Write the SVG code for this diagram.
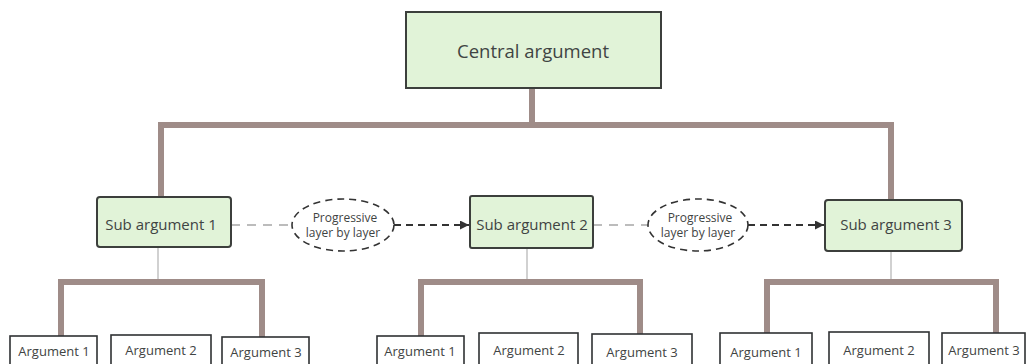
<svg xmlns="http://www.w3.org/2000/svg" width="1026" height="364" viewBox="0 0 1026 364">
  <defs>
    <style>
      .box { fill: #e1f3d8; stroke: #3c3f3c; stroke-width: 2; }
      .leaf { fill: #ffffff; stroke: #2f3133; stroke-width: 1.6; }
      .trunk { fill: none; stroke: #9f8c88; stroke-width: 6; stroke-linejoin: miter; }
      .stem { fill: none; stroke: #b3b3b3; stroke-width: 1.2; }
      .loop { fill: #ffffff; stroke: #333333; stroke-width: 1.6; stroke-dasharray: 7 5; }
      .light { fill: none; stroke: #7a7a7a; stroke-width: 1.2; stroke-dasharray: 9 7; }
      .dark { fill: none; stroke: #333333; stroke-width: 1.8; stroke-dasharray: 7 5; }
      text { font-family: "Open Sans", "Noto Sans", sans-serif; fill: #3f4443; text-anchor: middle; }
      .t1 { font-size: 18.5px; }
      .t2 { font-size: 15px; }
      .t3 { font-size: 13px; }
      .t4 { font-size: 12px; }
    </style>
    <marker id="arrow" viewBox="0 0 10 10" refX="10" refY="5" markerWidth="9" markerHeight="9" markerUnits="userSpaceOnUse" orient="auto">
      <path d="M0,0 L10,5 L0,10 z" fill="#333333"/>
    </marker>
  </defs>

  <g id="connectors">
    <!-- main trunk -->
    <path class="trunk" d="M532,88 V125"/>
    <path class="trunk" d="M161,197 V125 H891 V200"/>
    <!-- sub-level stems -->
    <path class="stem" d="M158,247 V282"/>
    <path class="stem" d="M527,248 V282"/>
    <path class="stem" d="M891,251 V282"/>
    <!-- leaf brackets -->
    <path class="trunk" d="M61,336 V282 H262 V337"/>
    <path class="trunk" d="M421,336 V282 H640 V334"/>
    <path class="trunk" d="M767,333 V282 H996 V333"/>
    <!-- progression links -->
    <path class="light" d="M231,225 H292"/>
    <path class="dark" d="M394,225 H469" marker-end="url(#arrow)"/>
    <path class="light" d="M593,225 H648"/>
    <path class="dark" d="M748,225 H824" marker-end="url(#arrow)"/>
  </g>

  <g id="central">
    <rect class="box" x="406" y="12" width="255" height="76"/>
    <text class="t1" x="533" y="58">Central argument</text>
  </g>

  <g id="sub1">
    <rect class="box" x="97" y="197" width="134" height="50" rx="3"/>
    <text class="t2" x="161" y="230">Sub argument 1</text>
  </g>
  <g id="sub2">
    <rect class="box" x="470" y="196" width="123" height="52" rx="2"/>
    <text class="t2" x="532" y="230">Sub argument 2</text>
  </g>
  <g id="sub3">
    <rect class="box" x="825" y="200" width="137" height="51" rx="3"/>
    <text class="t2" x="896" y="230">Sub argument 3</text>
  </g>

  <g id="link1">
    <ellipse class="loop" cx="343" cy="225" rx="51" ry="26"/>
    <text class="t4" x="345" y="222">Progressive</text>
    <text class="t4" x="343" y="237">layer by layer</text>
  </g>
  <g id="link2">
    <ellipse class="loop" cx="698" cy="225" rx="50" ry="26"/>
    <text class="t4" x="700" y="222">Progressive</text>
    <text class="t4" x="698" y="237">layer by layer</text>
  </g>

  <g id="arg1a">
    <rect class="leaf" x="10" y="336" width="87" height="40"/>
    <text class="t3" x="54" y="356">Argument 1</text>
  </g>
  <g id="arg2a">
    <rect class="leaf" x="111" y="335" width="100" height="40"/>
    <text class="t3" x="161" y="355">Argument 2</text>
  </g>
  <g id="arg3a">
    <rect class="leaf" x="222" y="337" width="87" height="40"/>
    <text class="t3" x="266" y="357">Argument 3</text>
  </g>

  <g id="arg1b">
    <rect class="leaf" x="377" y="336" width="87" height="40"/>
    <text class="t3" x="420" y="356">Argument 1</text>
  </g>
  <g id="arg2b">
    <rect class="leaf" x="479" y="333" width="99" height="40"/>
    <text class="t3" x="529" y="355">Argument 2</text>
  </g>
  <g id="arg3b">
    <rect class="leaf" x="592" y="334" width="100" height="40"/>
    <text class="t3" x="642" y="357">Argument 3</text>
  </g>

  <g id="arg1c">
    <rect class="leaf" x="720" y="333" width="92" height="40"/>
    <text class="t3" x="766" y="357">Argument 1</text>
  </g>
  <g id="arg2c">
    <rect class="leaf" x="829" y="332" width="100" height="40"/>
    <text class="t3" x="879" y="355">Argument 2</text>
  </g>
  <g id="arg3c">
    <rect class="leaf" x="942" y="333" width="83" height="40"/>
    <text class="t3" x="984" y="355">Argument 3</text>
  </g>
</svg>
